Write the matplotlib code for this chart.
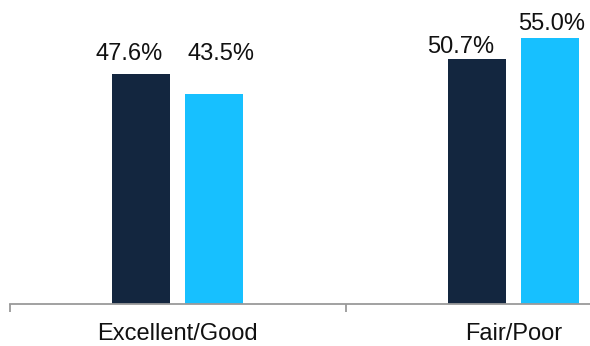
import matplotlib.pyplot as plt
import numpy as np

# chart data
categories = ['Excellent/Good', 'Fair/Poor']
series_a = [47.6, 50.7]   # dark bars
series_b = [43.5, 55.0]   # light bars
label_a = ['47.6%', '50.7%']
label_b = ['43.5%', '55.0%']

dark = '#13263F'
cyan = '#17C0FF'
axis_grey = '#9A9A9A'

plt.rcParams['font.family'] = ['Liberation Sans', 'DejaVu Sans']

fig = plt.figure(figsize=(5.9, 3.46), dpi=100)
ax = fig.add_axes([10 / 590, 42 / 346, 1 - 10 / 590, 1 - 42 / 346])

x = np.arange(len(categories))
width = 0.173
off = 0.109

bars_a = ax.bar(x - off, series_a, width, color=dark)
bars_b = ax.bar(x + off, series_b, width, color=cyan)

# value labels, nudged by hand (pixels) to match the original placement
nudge_a = [(-12.5, 14), (-16, 6)]
nudge_b = [(6.5, 34), (1.5, 8)]
for bars, labels, nudges in [(bars_a, label_a, nudge_a), (bars_b, label_b, nudge_b)]:
    for b, txt, (dx, dy) in zip(bars, labels, nudges):
        ax.annotate(txt, (b.get_x() + b.get_width() / 2, b.get_height()),
                    xytext=(dx, dy), textcoords='offset pixels',
                    ha='center', va='baseline', fontsize=17, color='#111111')

for s in ['top', 'right', 'left']:
    ax.spines[s].set_visible(False)
ax.spines['bottom'].set_color(axis_grey)
ax.spines['bottom'].set_linewidth(1.3)

ax.set_yticks([])
ax.set_xticks(x)
ax.set_xticklabels(categories, fontsize=17, color='#111111')
ax.tick_params(axis='x', which='major', length=0, pad=14)
ax.set_xticks([-0.5, 0.5, 1.5], minor=True)
ax.tick_params(axis='x', which='minor', length=6, width=1.3, color=axis_grey)

# limits last, since set_xticks widens the view
ax.set_xlim(-0.5, 1.228)
ax.set_ylim(0, 62.9)

fig.savefig('out.png', dpi=100)
